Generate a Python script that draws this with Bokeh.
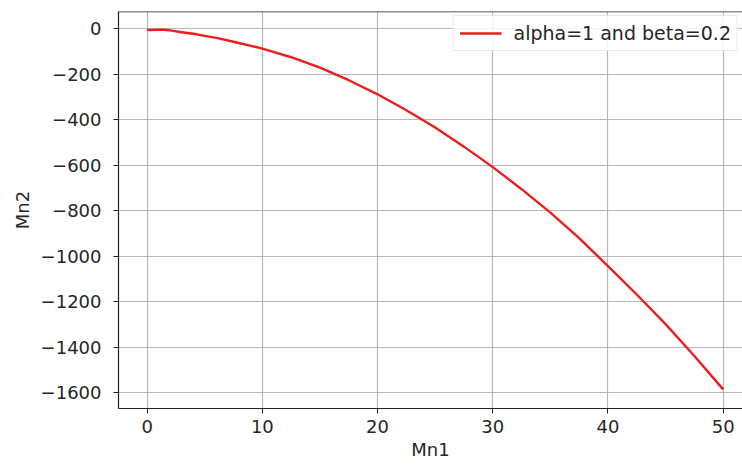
from bokeh.plotting import figure
from bokeh.models import FixedTicker, CustomJSTickFormatter, Range1d, Legend, LegendItem, Span
from bokeh.embed import file_html
from bokeh.resources import INLINE

# Data
mn1 = [0, 1, 1.5, 2, 3, 4, 5, 6, 7.5, 9, 10, 12.5, 15, 17.5, 20, 22.5, 25,
       27.5, 30, 32.5, 35, 37.5, 40, 42.5, 45, 47.5, 50]
mn2 = [-5, -4, -4, -7, -15, -22, -31, -40, -57, -75, -87, -125, -171, -226,
       -288, -358, -434, -518, -608, -705, -808, -920, -1043, -1168, -1298,
       -1438, -1585]
series_label = "alpha=1 and beta=0.2"
x_ticks = [0, 10, 20, 30, 40, 50]
y_ticks = [0, -200, -400, -600, -800, -1000, -1200, -1400, -1600]

FONT = "DejaVu Sans"
TXT = "#262626"
SPINE = "#222222"

p = figure(width=742, height=468, output_backend="svg", toolbar_location=None,
           x_range=Range1d(-2.49, 51.68), y_range=Range1d(-1669, 76),
           min_border_left=118, min_border_top=11, min_border_bottom=60,
           min_border_right=0)
p.background_fill_color = "white"
p.border_fill_color = "white"
p.outline_line_color = None

r = p.line(mn1, mn2, line_color="#ee1c1c", line_width=2.4, line_join="round")

fmt = CustomJSTickFormatter(code="return tick < 0 ? '\u2212' + Math.abs(tick) : tick.toString();")

for ax, ticks in ((p.xaxis[0], x_ticks), (p.yaxis[0], y_ticks)):
    ax.ticker = FixedTicker(ticks=ticks)
    ax.formatter = fmt
    ax.major_label_text_font = FONT
    ax.major_label_text_font_size = "18px"
    ax.major_label_text_color = TXT
    ax.axis_label_text_font = FONT
    ax.axis_label_text_font_size = "18px"
    ax.axis_label_text_font_style = "normal"
    ax.axis_label_text_color = TXT
    ax.minor_tick_line_color = None
    ax.major_tick_in = 0
    ax.major_tick_out = 5
    ax.major_tick_line_color = SPINE
    ax.axis_line_color = SPINE
    ax.axis_line_width = 1.2

p.xaxis.axis_label = "Mn1"
p.yaxis.axis_label = "Mn2"
p.xaxis.major_label_standoff = 6
p.xaxis.axis_label_standoff = 3
p.yaxis.major_label_standoff = 12
p.yaxis.axis_label_standoff = 5

p.xgrid.ticker = FixedTicker(ticks=x_ticks)
p.ygrid.ticker = FixedTicker(ticks=y_ticks)
for g in (p.xgrid[0], p.ygrid[0]):
    g.grid_line_color = "#b0b0b0"
    g.grid_line_width = 1.2
    g.grid_line_alpha = 0.9

# top spine only (right side of the original axes is cropped)
p.add_layout(Span(location=p.y_range.end, dimension="width",
                  line_color=SPINE, line_width=1.5))

legend = Legend(items=[LegendItem(label=series_label, renderers=[r])],
                location="top_right")
legend.label_text_font = FONT
legend.label_text_font_size = "19px"
legend.label_text_color = TXT
legend.glyph_width = 42
legend.label_standoff = 12
legend.padding = 6
legend.margin = 4
legend.border_line_color = "#d0d0d0"
legend.border_line_width = 1
legend.background_fill_alpha = 0.85
p.add_layout(legend)

open("out.html", "w").write(file_html(p, INLINE))
